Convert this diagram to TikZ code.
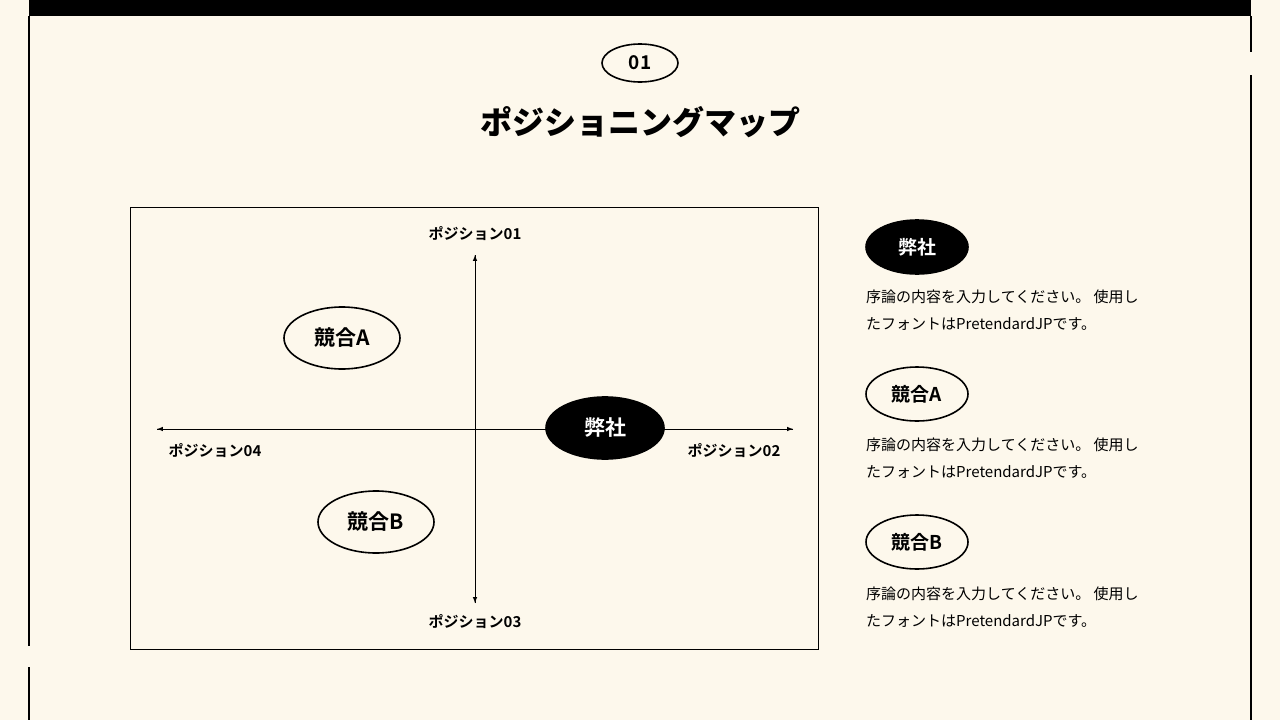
\documentclass[tikz,border=0pt]{standalone}
\usepackage{fontspec}
\setmainfont{Noto Sans CJK JP}
\newfontfamily\jpb{Noto Sans CJK JP Bold}
\newfontfamily\jpblack{Noto Sans CJK JP Black}
\definecolor{bg}{HTML}{FDF8EC}
\begin{document}
\begin{tikzpicture}[x=1pt,y=-1pt,
  oval/.style={ellipse,draw,line width=1.6pt,minimum width=116pt,minimum height=62pt,inner sep=0pt,font=\jpb\fontsize{21}{21}\selectfont},
  ovalf/.style={oval,fill=black,text=white},
  soval/.style={oval,minimum width=102pt,minimum height=54pt,font=\jpb\fontsize{19}{19}\selectfont},
  axlab/.style={font=\jpb\fontsize{15}{15}\selectfont,inner sep=0pt},
  body/.style={anchor=north west,align=left,inner sep=0pt,font=\fontsize{15}{27}\selectfont}]
\usetikzlibrary{shapes.geometric}
\fill[bg] (0,0) rectangle (1280,720);
\useasboundingbox (0,0) rectangle (1280,720);
\fill[black] (29,0) rectangle (1251,16);
\draw[line width=1.5pt] (29,16) -- (29,646) (29,667) -- (29,720);
\draw[line width=1.5pt] (1251,16) -- (1251,52) (1251,75) -- (1251,720);
\node[ellipse,draw,line width=1.6pt,minimum width=76pt,minimum height=38pt,inner sep=0pt,font=\jpb\fontsize{19}{19}\selectfont] (num) at (640,63) {01};
\node[font=\jpblack\fontsize{32}{32}\selectfont] (title) at (640,122) {ポジショニングマップ};
\draw[line width=0.6pt] (130,207) rectangle (818,649);
\coordinate (t) at (475,255); \coordinate (b) at (475,603);
\coordinate (l) at (157,429); \coordinate (r) at (793,429);
\draw[line width=1pt,-latex] (b) -- (t);
\draw[line width=1pt,-latex] (t) -- (b);
\draw[line width=1pt,-latex] (l) -- (r);
\draw[line width=1pt,-latex] (r) -- (l);
\node[axlab] (p1) at (475,234) {ポジション01};
\node[axlab] (p3) at (475,622) {ポジション03};
\node[axlab] (p4) at (215,451) {ポジション04};
\node[axlab] (p2) at (734,451) {ポジション02};
\node[oval] (a) at (342,338) {競合A};
\node[oval] (bb) at (376,522) {競合B};
\node[ovalf,minimum width=118pt] (us) at (605,428) {弊社};
\node[soval,fill=black,text=white] (us2) at (917,247) {弊社};
\node[soval] (a2) at (917,394) {競合A};
\node[soval] (b2) at (917,542) {競合B};
\node[body] (t1) at (866,290) {序論の内容を入力してください。 使用し\\たフォントはPretendardJPです。};
\node[body] (t2) at (866,438) {序論の内容を入力してください。 使用し\\たフォントはPretendardJPです。};
\node[body] (t3) at (866,587) {序論の内容を入力してください。 使用し\\たフォントはPretendardJPです。};
\end{tikzpicture}
\end{document}
